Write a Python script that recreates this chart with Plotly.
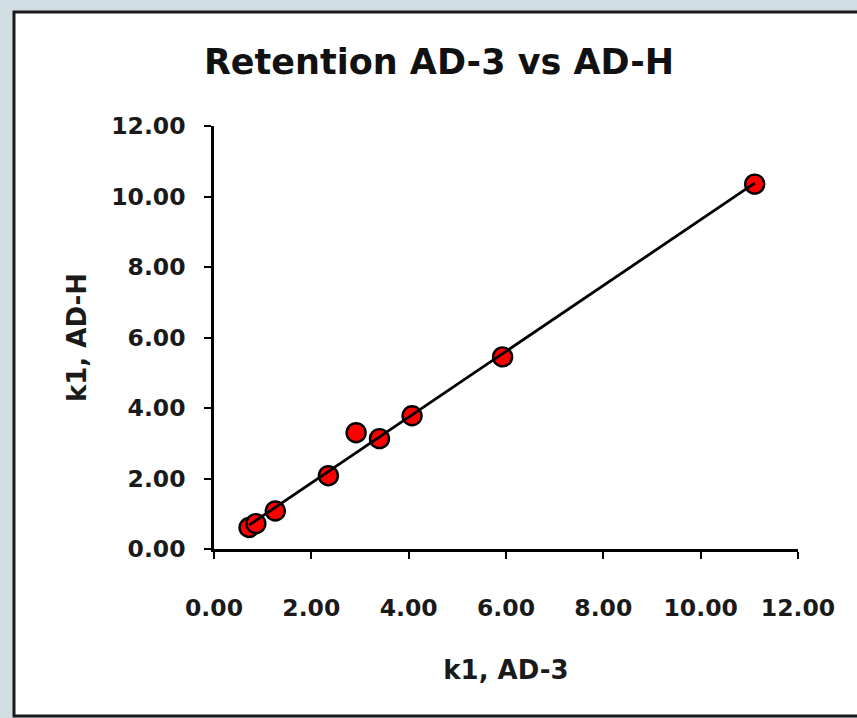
import numpy as np
import plotly.graph_objects as go

# Data
k1_ad3 = [0.72, 0.86, 1.26, 2.35, 2.92, 3.40, 4.07, 5.93, 11.11]
k1_adh = [0.61, 0.72, 1.08, 2.08, 3.30, 3.13, 3.78, 5.45, 10.35]
title_text = "Retention AD-3 vs AD-H"
x_title = "k1, AD-3"
y_title = "k1, AD-H"

# Linear trendline (Excel-style, spanning the data range)
slope, intercept = np.polyfit(k1_ad3, k1_adh, 1)
tx = np.array([min(k1_ad3), max(k1_ad3)])
ty = slope * tx + intercept

FONT = "DejaVu Sans"

fig = go.Figure()
fig.add_trace(go.Scatter(
    x=k1_ad3, y=k1_adh, mode="markers",
    marker=dict(size=19, color="#ff0000", line=dict(color="#000000", width=2.4)),
    showlegend=False, hoverinfo="skip"))
fig.add_trace(go.Scatter(
    x=tx, y=ty, mode="lines",
    line=dict(color="#000000", width=2.8),
    showlegend=False, hoverinfo="skip"))

axis_common = dict(
    range=[0, 12], dtick=2, tick0=0, tickformat=".2f",
    showline=True, linecolor="#000000", linewidth=2.5,
    ticks="outside", ticklen=7, tickwidth=2, tickcolor="#000000",
    showgrid=False, zeroline=False,
    tickfont=dict(family=FONT, size=23.5, color="#1a1a1a", weight="bold"),
    title_font=dict(family=FONT, size=26, color="#1a1a1a", weight="bold"),
)

fig.update_layout(
    width=857, height=718,
    margin=dict(l=214, r=59, t=126, b=169),
    paper_bgcolor="#d0dee4",
    plot_bgcolor="#ffffff",
    title=dict(text=title_text, x=439 / 857, xanchor="center",
               y=1 - 62 / 718, yanchor="middle",
               font=dict(family=FONT, size=35, color="#111111", weight="bold")),
    xaxis=dict(**axis_common, title=dict(text=x_title, standoff=40),
               ticklabelstandoff=29),
    yaxis=dict(**axis_common, title=dict(text=y_title, standoff=18),
               ticklabelstandoff=14),
    shapes=[dict(type="rect", xref="paper", yref="paper",
                 x0=(14 - 214) / 584, x1=(920 - 214) / 584,
                 y0=(549 - 716) / 423, y1=(549 - 12) / 423,
                 fillcolor="#ffffff", line=dict(color="#1a1a1a", width=3),
                 layer="below")],
)

fig.write_html("out.html")
